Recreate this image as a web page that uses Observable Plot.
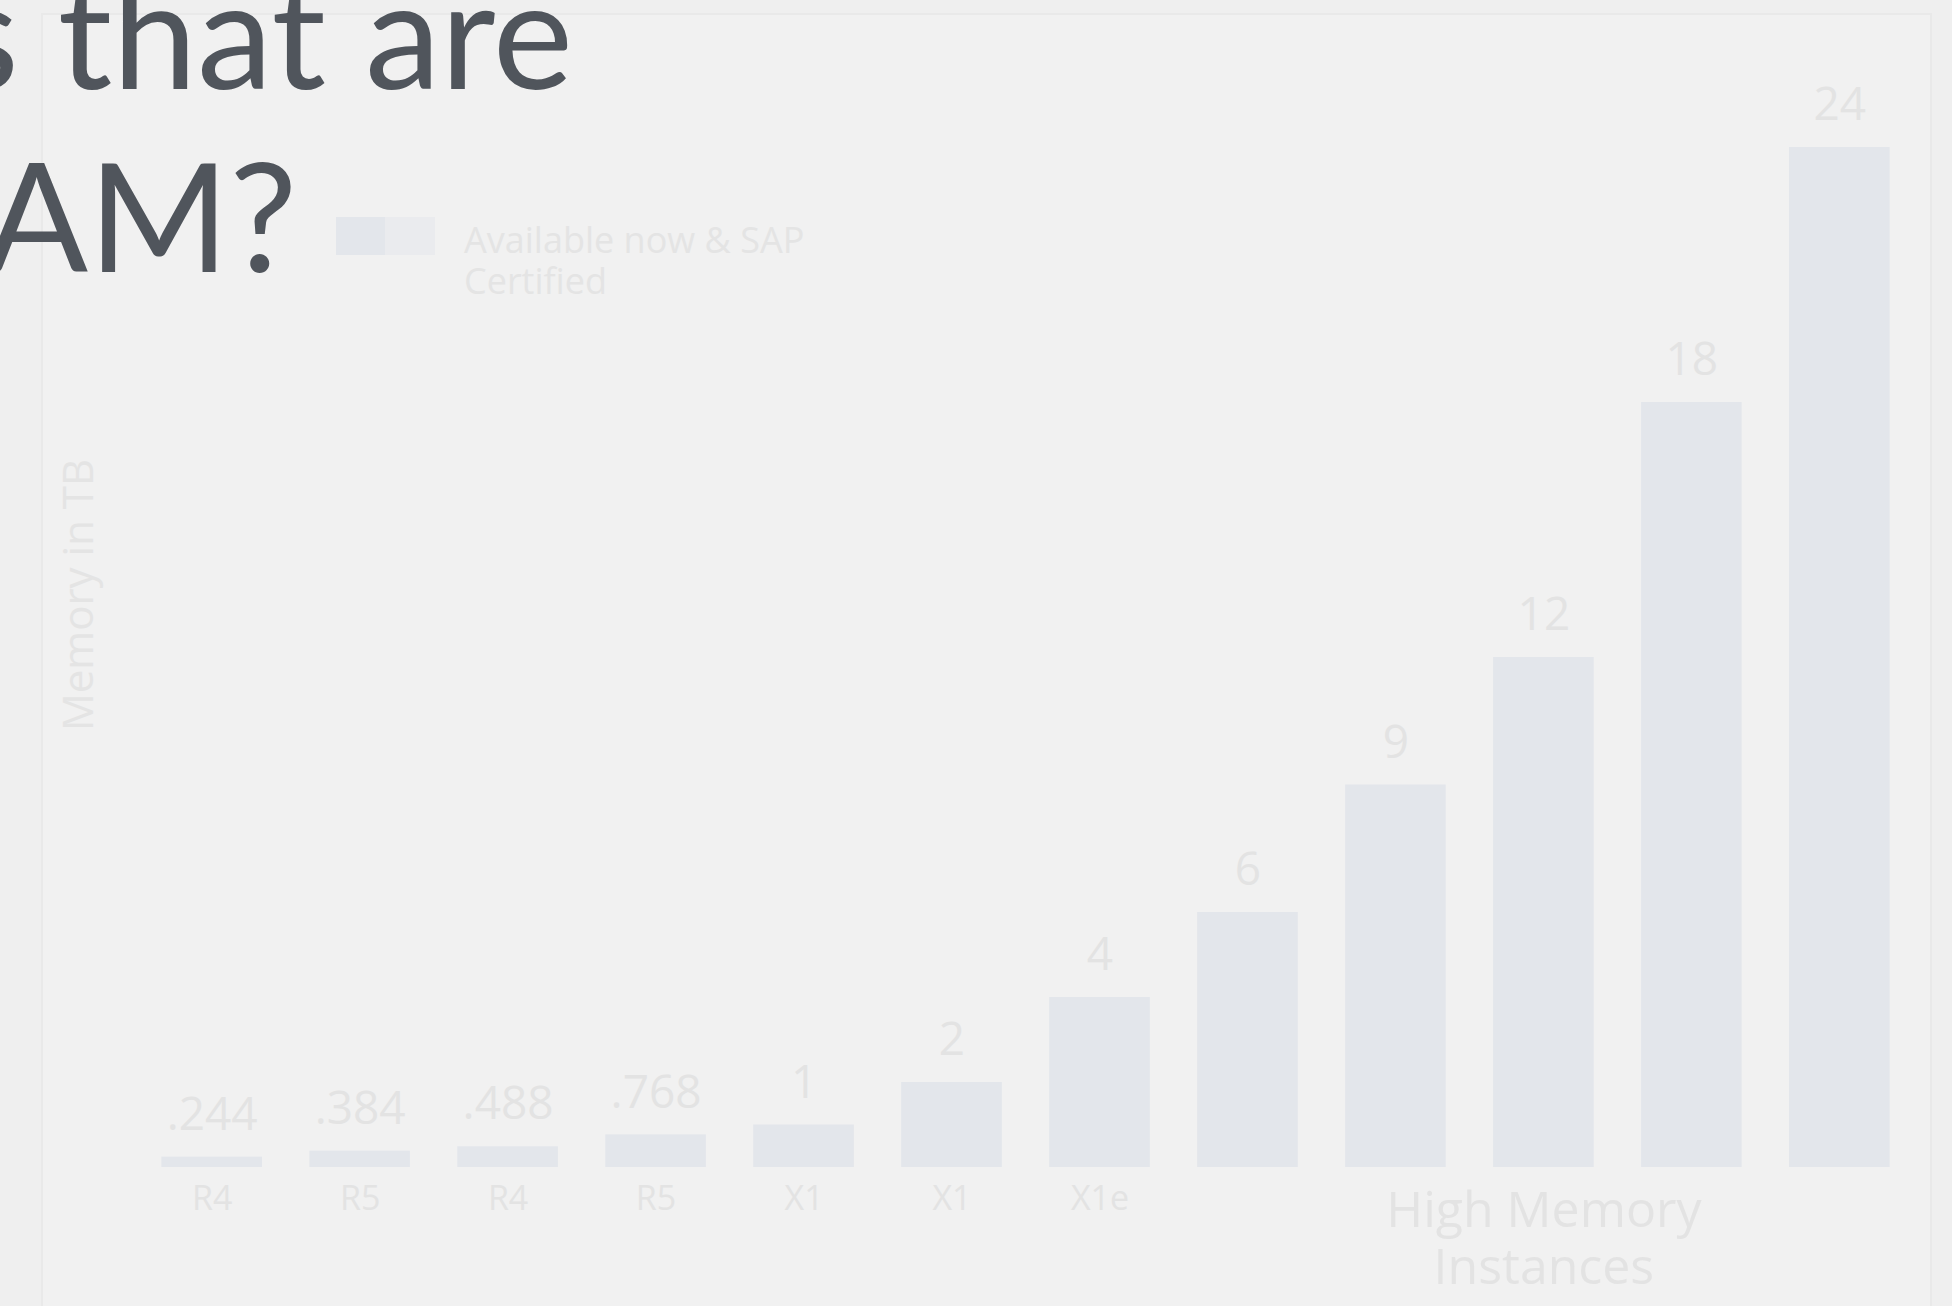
<!DOCTYPE html>
<html>
<head>
<meta charset="utf-8">
<script src="https://cdn.jsdelivr.net/npm/d3@7"></script>
<script src="https://cdn.jsdelivr.net/npm/@observablehq/plot@0.6"></script>
<style>
  html, body { margin: 0; padding: 0; background: #efefef; overflow: hidden; }
  #wrap { position: relative; width: 1952px; height: 1306px; overflow: hidden; }
  #panel { position: absolute; left: 41px; top: 13px; width: 1891px; height: 1320px;
           background: #f1f1f1; border: 2px solid #e9e9e9; box-sizing: border-box; }
  #chart { position: absolute; left: 0; top: 0; }
  .title { position: absolute; font-family: Lato, "Open Sans", sans-serif; color: #50555c;
           font-size: 152px; line-height: 1; white-space: nowrap; }
  #legend { position: absolute; left: 336px; top: 217px; font-family: "Open Sans", sans-serif; }
  #legend .sw1 { position: absolute; left: 0; top: 0; width: 49px; height: 38px; background: #e3e6eb; }
  #legend .sw2 { position: absolute; left: 49px; top: 0; width: 50px; height: 38px; background: #eaebee; }
  #legend .lt { position: absolute; left: 128px; top: 2px; font-size: 36px; line-height: 41px;
                color: #e4e4e4; white-space: nowrap; }
  #ylabel { position: absolute; left: 76px; top: 595px; transform: translate(-50%, -50%) rotate(-90deg);
            font-family: "Open Sans", sans-serif; font-size: 42px; color: #e4e4e4; white-space: nowrap; }
</style>
</head>
<body>
<div id="wrap">
  <div id="panel"></div>
  <div id="chart"></div>
  <div class="title" id="t1">s that are</div>
  <div class="title" id="t2">RAM?</div>
  <div id="legend"><div class="sw1"></div><div class="sw2"></div><div class="lt">Available now &amp; SAP<br>Certified</div></div>
  <div id="ylabel">Memory in TB</div>
</div>
<script>
// Data
const ids = ["a","b","c","d","e","f","g","h","i","j","k","l"];
const instanceLabels = ["R4","R5","R4","R5","X1","X1","X1e","","","","",""];
const memoryTB = [0.244, 0.384, 0.488, 0.768, 1, 2, 4, 6, 9, 12, 18, 24];
const groupLabel = "High Memory\nInstances";
const groupAt = "j";

const data = ids.map((id, i) => ({id, label: instanceLabels[i], value: memoryTB[i]}));
const labelOf = Object.fromEntries(data.map(d => [d.id, d.label]));
const fmt = v => d3.format("~g")(v).replace(/^0\./, ".");

const txt = "#e3e3e3";
const chart = Plot.plot({
  width: 1952,
  height: 1306,
  marginLeft: 114,
  marginRight: 15,
  marginTop: 147,
  marginBottom: 139,
  style: {background: "transparent", fontFamily: "'Open Sans', sans-serif", overflow: "visible"},
  x: {domain: ids, paddingInner: 0.32, paddingOuter: 0.32, round: false, label: null},
  y: {domain: [0, 24], axis: null},
  marks: [
    Plot.barY(data, {x: "id", y: "value", fill: "#e3e6eb"}),
    Plot.text(data, {x: "id", y: "value", text: d => fmt(d.value), dy: -42, lineAnchor: "middle",
      fontSize: 46, fill: txt}),
    Plot.axisX({tickSize: 0, tickPadding: 18, fontSize: 34, tickFormat: d => labelOf[d], color: txt}),
    Plot.text([{id: groupAt, t: groupLabel}], {x: "id", y: () => 0, text: "t", dy: 70, lineAnchor: "middle",
      lineHeight: 1.13, fontSize: 50, fill: txt})
  ]
});
document.getElementById("chart").appendChild(chart);

// Position title lines (right-aligned ends)
const t1 = document.getElementById("t1");
const t2 = document.getElementById("t2");
t1.style.left = (573 - t1.offsetWidth) + "px";
t1.style.top = "-46px";
t2.style.left = (297 - t2.offsetWidth) + "px";
t2.style.top = "137px";
</script>
</body>
</html>
